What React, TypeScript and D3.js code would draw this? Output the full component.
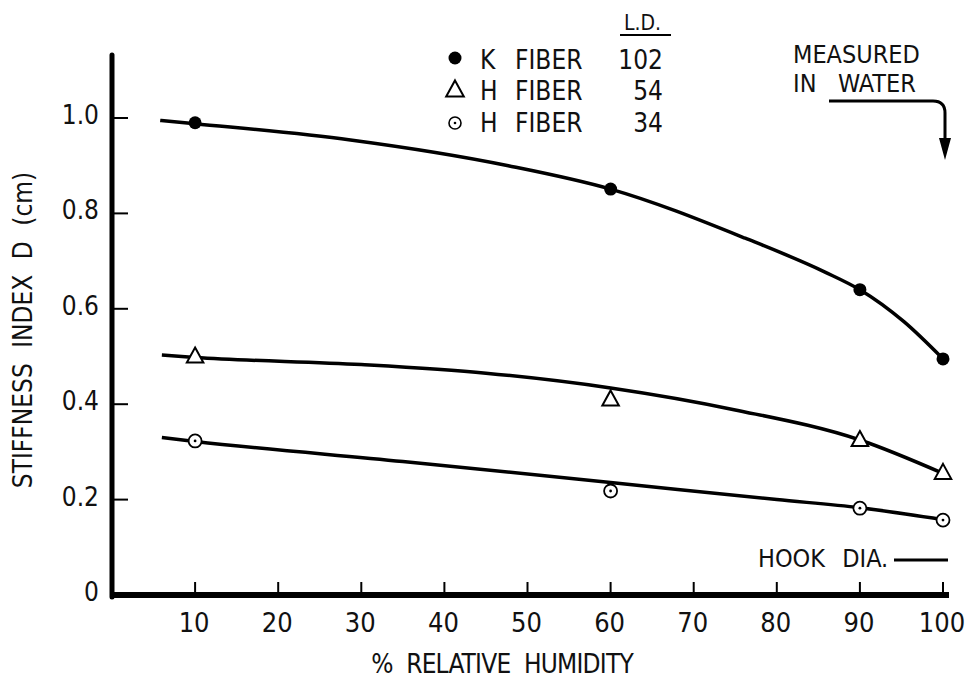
import React from 'react';
import * as d3 from 'd3';

// measured points (humidity %, stiffness index D cm)
const humidity = [10, 60, 90, 100];
const kFiber102 = [0.99, 0.851, 0.64, 0.495];
const hFiber54 = [0.5, 0.41, 0.325, 0.256];
const hFiber34 = [0.323, 0.218, 0.182, 0.157];

// fitted curves
const kCurveX = [5.8, 10, 28.7, 47.7, 60, 76.2, 85.8, 90, 95.3, 100];
const kCurveY = [0.995, 0.988, 0.954, 0.9, 0.851, 0.748, 0.677, 0.64, 0.573, 0.495];
const h54CurveX = [6, 10, 30, 45, 60, 75, 90, 100];
const h54CurveY = [0.503, 0.498, 0.483, 0.465, 0.434, 0.388, 0.325, 0.255];
const h34CurveX = [6, 10, 35, 60, 80, 90, 100];
const h34CurveY = [0.33, 0.322, 0.28, 0.236, 0.2, 0.183, 0.158];

const xTicks = [10, 20, 30, 40, 50, 60, 70, 80, 90, 100];
const yTicks = [0, 0.2, 0.4, 0.6, 0.8, 1.0];
const yTickLabels = ['0', '0.2', '0.4', '0.6', '0.8', '1.0'];

const legendLetters = ['K', 'H', 'H'];
const legendLD = ['102', '54', '34'];

const font = "'DejaVu Sans Condensed', 'Liberation Sans Narrow', sans-serif";

export default function App() {
  const width = 970;
  const height = 680;
  const x = d3.scaleLinear().domain([0, 100]).range([112, 943]);
  const y = d3.scaleLinear().domain([0, 1]).range([595, 118]);

  const line = d3
    .line<[number, number]>()
    .x((d) => x(d[0]))
    .y((d) => y(d[1]))
    .curve(d3.curveMonotoneX);

  const curves = [
    d3.zip(kCurveX, kCurveY) as [number, number][],
    d3.zip(h54CurveX, h54CurveY) as [number, number][],
    d3.zip(h34CurveX, h34CurveY) as [number, number][],
  ];

  const tri = (cx: number, cy: number, s: number) =>
    `M${cx},${cy - s * 0.6}L${cx + s * 0.55},${cy + s * 0.4}L${cx - s * 0.55},${cy + s * 0.4}Z`;

  const axisX0 = x(0);
  const legendY = [58, 90, 123];
  const legendBase = [69, 100, 132];

  return (
    <svg
      width={width}
      height={height}
      style={{ position: 'absolute', left: 0, top: 0, background: '#fff' }}
      fontFamily={font}
    >
      <rect width={width} height={height} fill="#fff" />

      {/* axes */}
      <line x1={axisX0} y1={55} x2={axisX0} y2={597} stroke="#000" strokeWidth={5} strokeLinecap="round" />
      <line x1={axisX0} y1={595} x2={949} y2={595} stroke="#000" strokeWidth={6} />
      {yTicks.slice(1).map((t) => (
        <line key={t} x1={axisX0} x2={axisX0 + 16} y1={y(t)} y2={y(t)} stroke="#000" strokeWidth={2} />
      ))}
      {xTicks.map((t) => (
        <line key={t} x1={x(t)} x2={x(t)} y1={595} y2={582} stroke="#000" strokeWidth={2} />
      ))}
      {yTicks.map((t, i) => (
        <text key={t} x={99} y={y(t) + 6} fontSize={26} textAnchor="end" fill="#111">
          {yTickLabels[i]}
        </text>
      ))}
      {xTicks.map((t) => (
        <text key={t} x={x(t) - 1} y={632} fontSize={27} textAnchor="middle" fill="#111">
          {t}
        </text>
      ))}

      <text x={502} y={673} fontSize={26} textAnchor="middle" wordSpacing={7} letterSpacing={-0.8} fill="#111">
        % RELATIVE HUMIDITY
      </text>
      <text
        transform="translate(32,330) rotate(-90)"
        fontSize={26}
        textAnchor="middle"
        wordSpacing={8}
        fill="#111"
      >
        STIFFNESS INDEX D (cm)
      </text>

      {/* curves */}
      {curves.map((c, i) => (
        <path key={i} d={line(c) || ''} fill="none" stroke="#000" strokeWidth={3.5} />
      ))}

      {/* markers */}
      {humidity.map((h, i) => (
        <circle key={'k' + i} cx={x(h)} cy={y(kFiber102[i])} r={6.5} fill="#000" />
      ))}
      {humidity.map((h, i) => (
        <path key={'t' + i} d={tri(x(h), y(hFiber54[i]), 15)} fill="#fff" stroke="#000" strokeWidth={2} />
      ))}
      {humidity.map((h, i) => (
        <g key={'c' + i}>
          <circle cx={x(h)} cy={y(hFiber34[i])} r={6.5} fill="#fff" stroke="#000" strokeWidth={1.8} />
          <circle cx={x(h)} cy={y(hFiber34[i])} r={1.4} fill="#000" />
        </g>
      ))}

      {/* legend */}
      <text x={661} y={30} fontSize={21} textAnchor="end" fill="#111">L.D.</text>
      <line x1={620} x2={671} y1={35} y2={35} stroke="#000" strokeWidth={2} />
      {legendLetters.map((n, i) => {
        const cy = legendY[i];
        return (
          <g key={i}>
            {i === 0 && <circle cx={455} cy={cy} r={6.5} fill="#000" />}
            {i === 1 && <path d={tri(455, cy, 16)} fill="#fff" stroke="#000" strokeWidth={2} />}
            {i === 2 && (
              <g>
                <circle cx={455} cy={cy} r={6} fill="#fff" stroke="#000" strokeWidth={1.6} />
                <circle cx={455} cy={cy} r={1.3} fill="#000" />
              </g>
            )}
            <text x={480} y={legendBase[i]} fontSize={26} fill="#111">{n}</text>
            <text x={515} y={legendBase[i]} fontSize={26} fill="#111">FIBER</text>
            <text x={663} y={legendBase[i]} fontSize={26} textAnchor="end" fill="#111">
              {legendLD[i]}
            </text>
          </g>
        );
      })}

      {/* measured in water note */}
      <text x={793} y={63} fontSize={25} fill="#111">MEASURED</text>
      <text x={793} y={92} fontSize={25} fill="#111">IN</text>
      <text x={838} y={92} fontSize={25} fill="#111">WATER</text>
      <path d="M829,101 L933,101 Q945,101 945,113 L945,142" fill="none" stroke="#000" strokeWidth={3} />
      <path d="M939,138 L951,138 L945,160 Z" fill="#000" />

      {/* hook dia */}
      <text x={758} y={567} fontSize={25} wordSpacing={10} fill="#111">HOOK DIA.</text>
      <line x1={894} x2={948} y1={560} y2={560} stroke="#000" strokeWidth={3} />
    </svg>
  );
}
